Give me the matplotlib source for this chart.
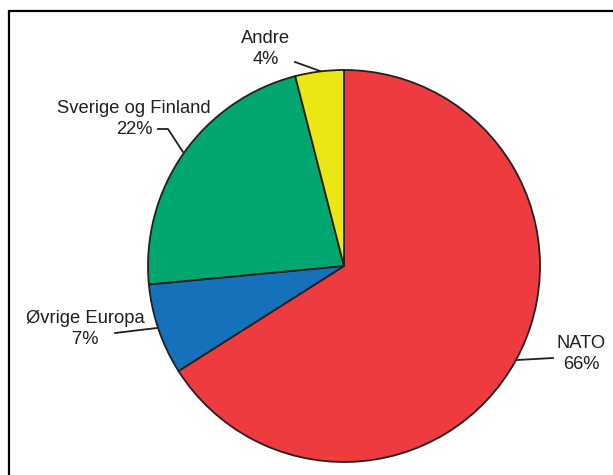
import matplotlib.pyplot as plt
from matplotlib.patches import Rectangle

# data
labels = ["NATO", "Øvrige Europa", "Sverige og Finland", "Andre"]
values = [66, 7.5, 22.5, 4]
pct_text = ["66%", "7%", "22%", "4%"]
colors = ["#EE3B3F", "#1571BA", "#00A66F", "#EDE615"]

plt.rcParams['font.family'] = ['Liberation Sans', 'DejaVu Sans']

fig = plt.figure(figsize=(6.13, 4.75), dpi=100)
ax = fig.add_axes([0, 0, 1, 1])

H = 475
cx, cy, r = 344, H - 266, 196
ax.pie(values, colors=colors, startangle=90, counterclock=False,
       center=(cx, cy), radius=r, frame=True,
       wedgeprops=dict(edgecolor='#231F20', linewidth=1.3))
ax.set_xlim(0, 613)
ax.set_ylim(0, 475)
ax.set_aspect('equal')
ax.axis('off')

# frame (clipped at right and bottom)
ax.add_patch(Rectangle((8.5, -20), 700, H - 10.5 + 20, fill=False,
                       edgecolor='black', linewidth=1.6, clip_on=True))

# labels with leader lines (pixel coords, y from top)
lab_pos = [(581, 354), (85, 329), (134, 119), (266, 49)]
leaders = [
    [(553, 358), (517, 360)],
    [(115, 333), (157, 328)],
    [(158, 129), (168, 129), (183, 152)],
    [(295, 62), (320, 71)],
]
for name, p, (x, y), pts in zip(labels, pct_text, lab_pos, leaders):
    ax.text(x, H - y, name + "\n" + p, ha='center', va='center',
            fontsize=13.2, color='#231F20', linespacing=1.32)
    ax.plot([q[0] for q in pts], [H - q[1] for q in pts],
            color='#231F20', linewidth=1.3)

fig.savefig("out.png", dpi=100)
